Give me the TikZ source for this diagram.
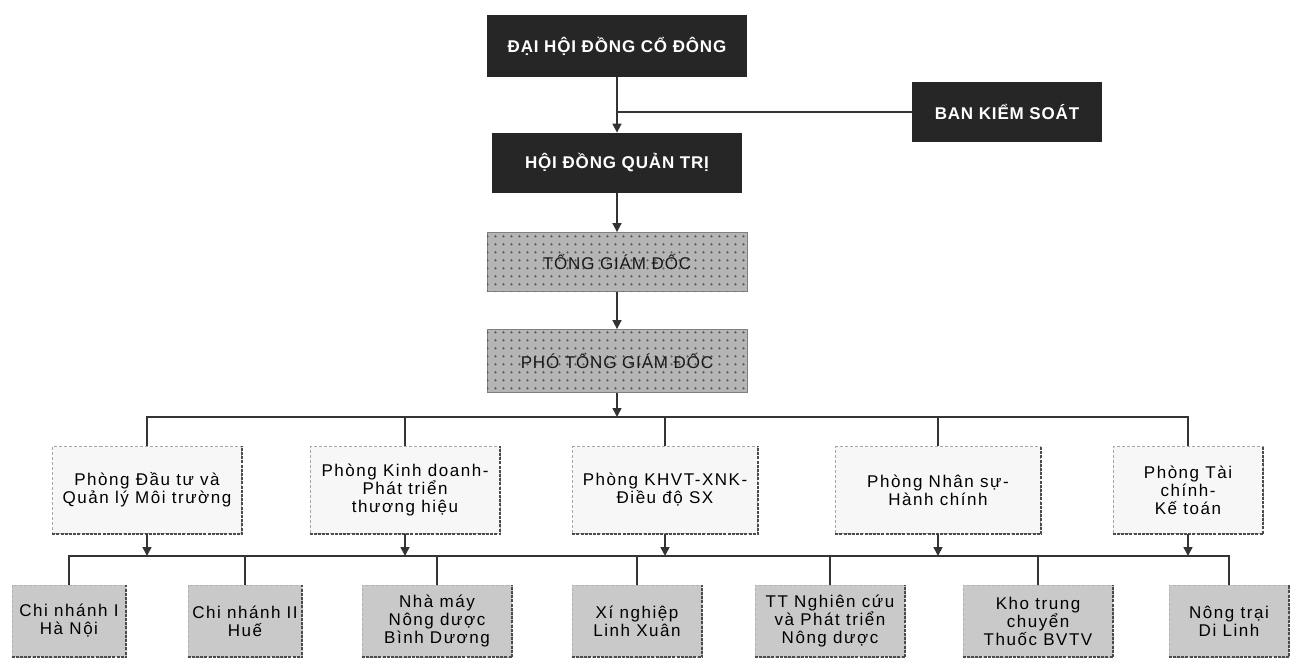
\documentclass[tikz,border=0pt]{standalone}
\usepackage{fontspec}
\setmainfont{Liberation Sans}
\newfontfamily\spacedfont[LetterSpace=9]{Liberation Sans}
\newfontfamily\capsfont[LetterSpace=5]{Liberation Sans}
\usetikzlibrary{arrows.meta,patterns.meta}

\begin{document}
\begin{tikzpicture}[x=0.5pt,y=-0.5pt,
    darkbox/.style={fill=black!85, text=white, inner sep=0pt,
      font=\capsfont\bfseries\fontsize{8.5}{10}\selectfont},
    dotbox/.style={fill=gray!58, draw=black!50, text=black!90, inner sep=0pt,
      postaction={pattern={Dots[distance=4pt,radius=0.7pt]}, pattern color=black!65},
      font=\capsfont\fontsize{8.5}{10}\selectfont},
    deptbox/.style={fill=gray!6, draw=gray!70, dash pattern=on 1.5pt off 1pt,
      align=center, inner sep=0pt, font=\spacedfont\fontsize{8.5}{9}\selectfont},
    unitbox/.style={deptbox, fill=gray!42, draw=gray!60},
    link/.style={line width=0.8pt, black!80},
    arr/.style={link, -{Triangle[length=4.5pt,width=4.5pt]}},
    botline/.style={line width=1pt, black!70, dash pattern=on 1.5pt off 0.6pt}]
  \useasboundingbox (0,0) rectangle (1290,668);
  % top level
  \node[darkbox, minimum width=130pt, minimum height=31pt] (dhcd) at (617,46) {ĐẠI HỘI ĐỒNG CỔ ĐÔNG};
  \node[darkbox, minimum width=95pt, minimum height=30pt] (bks) at (1007,112) {BAN KIỂM SOÁT};
  \node[darkbox, minimum width=125pt, minimum height=30pt] (hdqt) at (617,163) {HỘI ĐỒNG QUẢN TRỊ};
  \node[dotbox, minimum width=130pt, minimum height=29.5pt] (tgd) at (617,262) {TỔNG GIÁM ĐỐC};
  \node[dotbox, minimum width=130pt, minimum height=31.5pt] (ptgd) at (617,361) {PHÓ TỔNG GIÁM ĐỐC};
  % departments
  \node[deptbox, minimum width=94.5pt, minimum height=43.5pt] (p1) at (147,490) {Phòng Đầu tư và\\Quản lý Môi trường};
  \node[deptbox, minimum width=95pt, minimum height=43.5pt] (p2) at (405,490) {Phòng Kinh doanh-\\Phát triển\\thương hiệu};
  \node[deptbox, minimum width=92.5pt, minimum height=43.5pt] (p3) at (665,490) {Phòng KHVT-XNK-\\Điều độ SX};
  \node[deptbox, minimum width=102.5pt, minimum height=43.5pt] (p4) at (938,490) {Phòng Nhân sự-\\Hành chính};
  \node[deptbox, minimum width=75pt, minimum height=43.5pt] (p5) at (1188,490) {Phòng Tài\\chính-\\Kế toán};
  % units
  \node[unitbox, minimum width=57pt, minimum height=36pt] (b1) at (69,621) {Chi nhánh I\\Hà Nội};
  \node[unitbox, minimum width=57pt, minimum height=36pt] (b2) at (245,621) {Chi nhánh II\\Huế};
  \node[unitbox, minimum width=75pt, minimum height=36pt] (b3) at (437,621) {Nhà máy\\Nông dược\\Bình Dương};
  \node[unitbox, minimum width=65pt, minimum height=36pt] (b4) at (637,621) {Xí nghiệp\\Linh Xuân};
  \node[unitbox, minimum width=75pt, minimum height=36pt] (b5) at (830,621) {TT Nghiên cứu\\và Phát triển\\Nông dược};
  \node[unitbox, minimum width=75pt, minimum height=36pt] (b6) at (1038,621) {Kho trung\\chuyển\\Thuốc BVTV};
  \node[unitbox, minimum width=60pt, minimum height=36pt] (b7) at (1229,621) {Nông trại\\Di Linh};
  % heavy lower edges
  \foreach \n in {p1,p2,p3,p4,p5,b1,b2,b3,b4,b5,b6,b7}
    \draw[botline] (\n.south west) -- (\n.south east) -- (\n.north east);
  % bus coordinates
  \coordinate (bus1) at (617,417);
  \coordinate (bus2) at (665,556);
  % connectors
  \draw[arr] (dhcd) -- (hdqt);
  \draw[link] (bks.west) -- (bks.west -| dhcd.south);
  \draw[arr] (hdqt) -- (tgd);
  \draw[arr] (tgd) -- (ptgd);
  \draw[arr] (ptgd) -- (bus1);
  \draw[link] (p1.north) |- (bus1) -| (p5.north);
  \draw[link] (p2.north) -- (p2.north |- bus1);
  \draw[link] (p3.north) -- (p3.north |- bus1);
  \draw[link] (p4.north) -- (p4.north |- bus1);
  \draw[link] (b1.north) |- (bus2) -| (b7.north);
  \foreach \n in {b2,b3,b4,b5,b6}
    \draw[link] (\n.north) -- (\n.north |- bus2);
  \foreach \n in {p1,p2,p3,p4,p5}
    \draw[arr] (\n.south) -- (\n.south |- bus2);
\end{tikzpicture}
\end{document}
